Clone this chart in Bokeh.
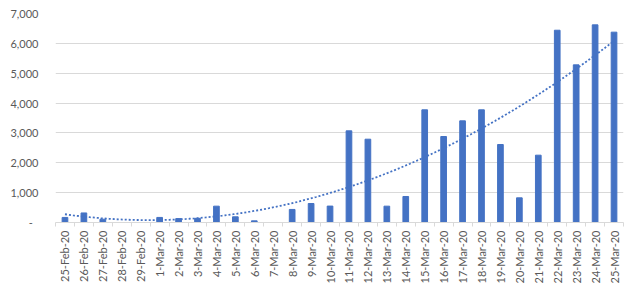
import numpy as np
from bokeh.plotting import figure
from bokeh.models import FixedTicker, NumeralTickFormatter, Range1d
from bokeh.embed import file_html
from bokeh.resources import INLINE

dates = ["25-Feb-20", "26-Feb-20", "27-Feb-20", "28-Feb-20", "29-Feb-20",
         "1-Mar-20", "2-Mar-20", "3-Mar-20", "4-Mar-20", "5-Mar-20",
         "6-Mar-20", "7-Mar-20", "8-Mar-20", "9-Mar-20", "10-Mar-20",
         "11-Mar-20", "12-Mar-20", "13-Mar-20", "14-Mar-20", "15-Mar-20",
         "16-Mar-20", "17-Mar-20", "18-Mar-20", "19-Mar-20", "20-Mar-20",
         "21-Mar-20", "22-Mar-20", "23-Mar-20", "24-Mar-20", "25-Mar-20"]
cases = [170, 320, 110, 0, 0,
         170, 130, 140, 547, 190,
         55, 0, 437, 636, 550,
         3070, 2790, 547, 871, 3774,
         2880, 3405, 3774, 2612, 826,
         2255, 6440, 5280, 6620, 6375]
y_ticks = [0, 1000, 2000, 3000, 4000, 5000, 6000, 7000]

BLUE = "#4472C4"
GRID = "#d9d9d9"
TXT = "#595959"

n = len(dates)
xc = [i + 0.5 for i in range(n)]

p = figure(width=640, height=290, output_backend="svg", toolbar_location=None,
           x_range=Range1d(0, n), y_range=Range1d(0, 7000),
           min_border_left=55, min_border_right=17, min_border_top=13,
           min_border_bottom=68)
p.outline_line_color = None
p.background_fill_color = "white"
p.border_fill_color = "white"

# bars
p.vbar(x=xc, top=cases, width=0.3, color=BLUE)

# polynomial (order 2) trendline fitted to the data, as Excel does
idx = np.arange(1, n + 1)
coef = np.polyfit(idx, np.array(cases, dtype=float), 2)
xs = np.linspace(1, n, 200)
ys = np.polyval(coef, xs)
p.line(xs - 0.5, ys, color=BLUE, line_width=1.8, line_dash="2 2")

# y axis
p.yaxis.ticker = FixedTicker(ticks=y_ticks)
p.yaxis.formatter = NumeralTickFormatter(format="0,0")
p.yaxis.major_label_overrides = {0: "-\u00a0\u00a0"}
p.yaxis.axis_line_color = None
p.yaxis.major_tick_line_color = None
p.yaxis.minor_tick_line_color = None
p.yaxis.major_label_text_font = "Lato"
p.yaxis.major_label_text_font_size = "11px"
p.yaxis.major_label_text_color = TXT
p.yaxis.major_label_standoff = 11

p.ygrid.grid_line_color = GRID
p.ygrid.grid_line_width = 1
p.xgrid.grid_line_color = None

# x axis
p.xaxis.ticker = FixedTicker(ticks=xc, minor_ticks=list(range(n + 1)))
p.xaxis.major_label_overrides = {x: d for x, d in zip(xc, dates)}
p.xaxis.major_label_orientation = np.pi / 2
p.xaxis.axis_line_color = GRID
p.xaxis.major_tick_line_color = None
p.xaxis.minor_tick_line_color = GRID
p.xaxis.minor_tick_out = 4
p.xaxis.minor_tick_in = 0
p.xaxis.major_tick_out = 4
p.xaxis.major_tick_in = 0
p.xaxis.major_label_text_font = "Lato"
p.xaxis.major_label_text_font_size = "11px"
p.xaxis.major_label_text_color = TXT
p.xaxis.major_label_standoff = 4

open("out.html", "w").write(file_html(p, INLINE))
